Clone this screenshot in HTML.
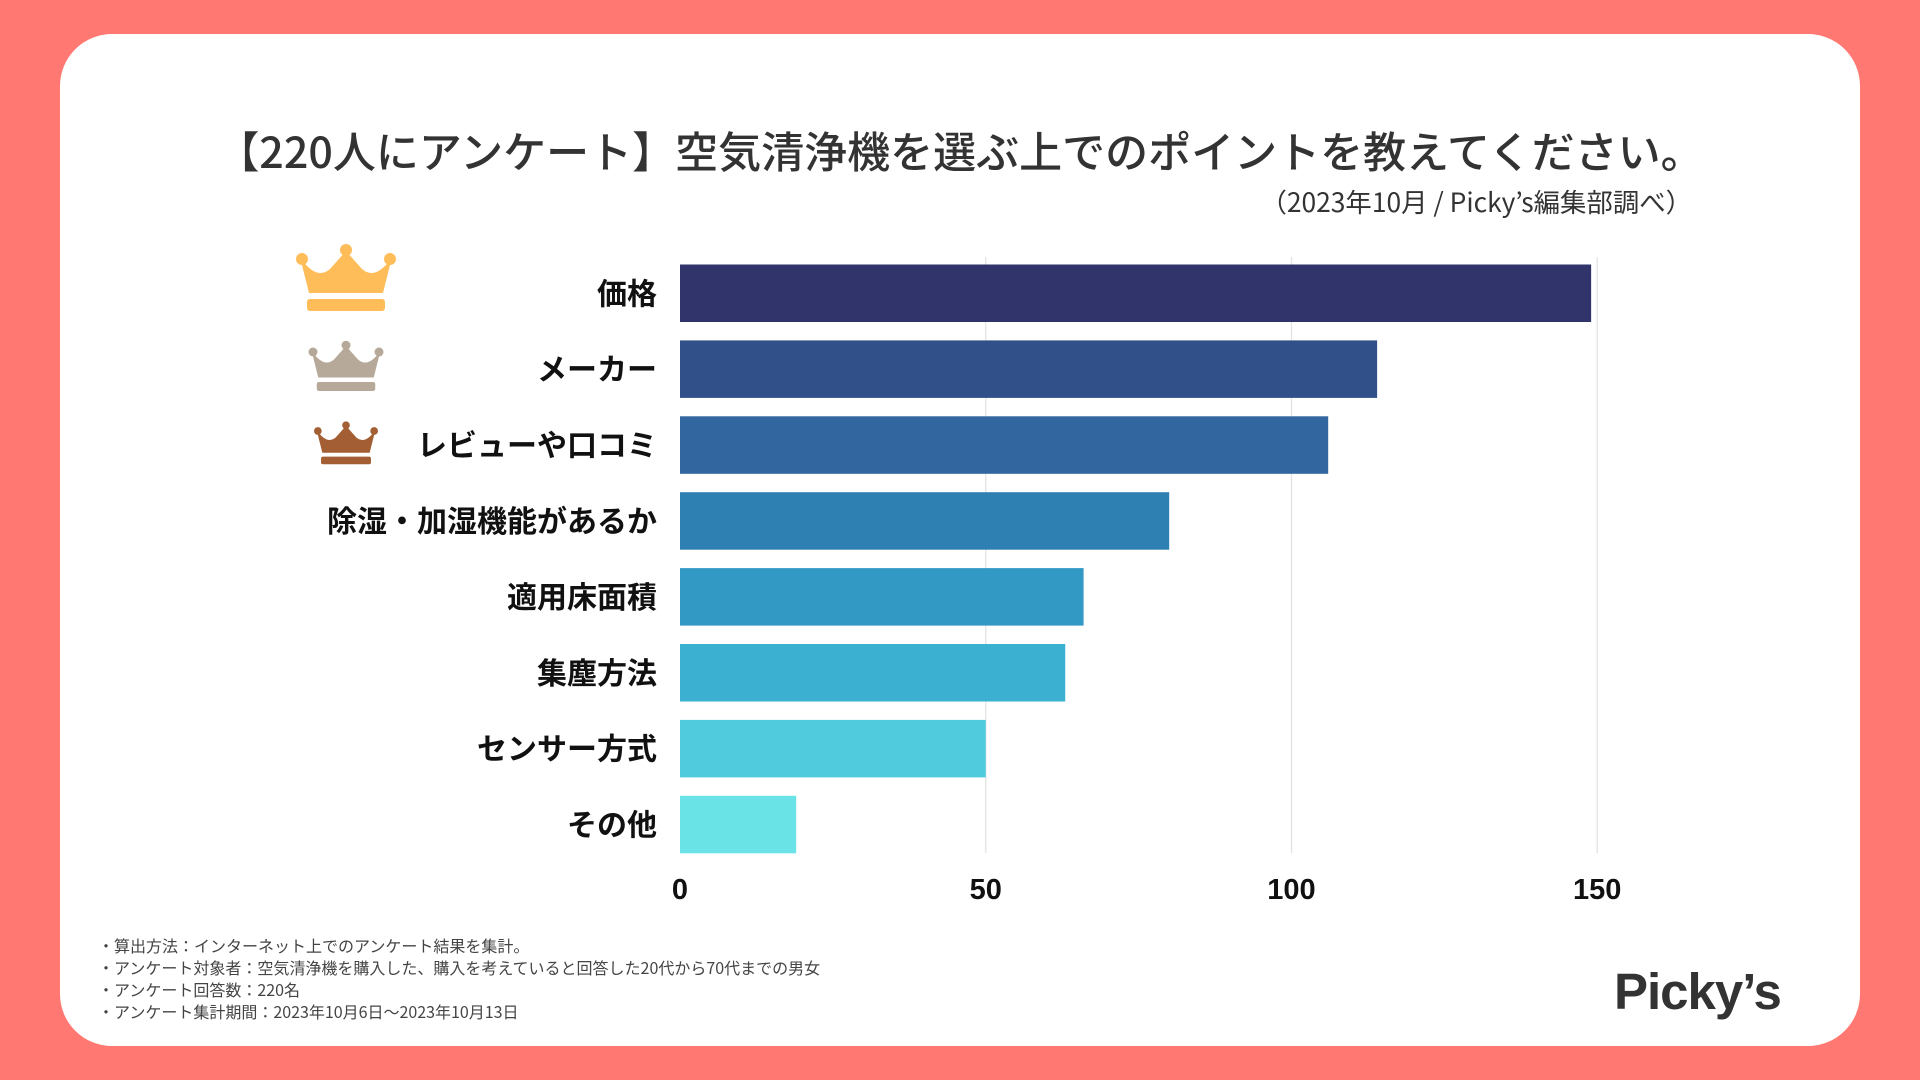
<!DOCTYPE html>
<html><head><meta charset="utf-8"><style>
html,body{margin:0;padding:0}
body{width:1920px;height:1080px;background:#ff7872;position:relative;overflow:hidden;font-family:"Liberation Sans","Noto Sans CJK JP",sans-serif}
#card{position:absolute;left:60px;top:34px;width:1800px;height:1012px;background:#fff;border-radius:52px}
.t{position:absolute;white-space:nowrap}
</style></head><body>
<div id="card"></div>
<div class="t" style="left:0;width:1920px;text-align:center;top:119px;font-size:43px;color:#333;font-family:'Noto Sans CJK JP',sans-serif;font-weight:500">【220人にアンケート】空気清浄機を選ぶ上でのポイントを教えてください。</div>
<div class="t" style="right:228px;top:181px;font-size:26.4px;color:#333;font-family:'Noto Sans CJK JP',sans-serif">（2023年10月 / Picky’s編集部調べ）</div>
<svg id="chart" width="1920" height="1080" style="position:absolute;left:0;top:0">
<defs>
<g id="crown"><path d="M-46,-2 Q-30,22 -16,10 L0,-8 L16,10 Q30,22 46,-2 L37,34 L-37,34 Z"/><circle cx="0" cy="-9" r="6"/><circle cx="-44" cy="0" r="6"/><circle cx="44" cy="0" r="6"/><rect x="-39" y="40" width="78" height="12" rx="3"/></g>
</defs>
<g transform="translate(346,259)" fill="#ffbd59"><use href="#crown"/></g>
<g transform="translate(346,352) scale(0.75)" fill="#b6a999"><use href="#crown"/></g>
<g transform="translate(346,431) scale(0.64)" fill="#a35e33"><use href="#crown"/></g>
</svg>
<div class="t" style="left:98px;top:934px;font-size:16px;line-height:22px;color:#444;font-family:'Noto Sans CJK JP',sans-serif">
・算出方法：インターネット上でのアンケート結果を集計。<br>・アンケート対象者：空気清浄機を購入した、購入を考えていると回答した20代から70代までの男女<br>・アンケート回答数：220名<br>・アンケート集計期間：2023年10月6日〜2023年10月13日</div>
<div class="t" style="left:1614px;top:962px;font-size:51px;font-weight:bold;color:#333;letter-spacing:-1px">Picky’s</div>
<script>
const categories=["価格","メーカー","レビューや口コミ","除湿・加湿機能があるか","適用床面積","集塵方法","センサー方式","その他"];
const values=[149,114,106,80,66,63,50,19];
const colors=["#31336b","#314f88","#31679e","#2e80b2","#3299c4","#3bb0d0","#50cbdd","#6ae3e6"];
const ticks=[0,50,100,150];
const NS="http://www.w3.org/2000/svg";
const svg=document.getElementById('chart');
const x0=680,unit=6.115,top0=264.5,pitch=75.9,bh=57.5;
const xs=v=>x0+v*unit;
function mk(t,a){const e=document.createElementNS(NS,t);for(const k in a)e.setAttribute(k,a[k]);svg.appendChild(e);return e;}
ticks.forEach(t=>{if(t>0){const l=mk('line',{x1:xs(t),x2:xs(t),y1:257,y2:853,stroke:'#e3e3e3','stroke-width':1.3});

}
const tx=mk('text',{x:xs(t),y:899,'text-anchor':'middle','font-size':29,'font-weight':'bold',fill:'#111'});tx.textContent=t;

});
categories.forEach((c,i)=>{const y=top0+i*pitch;
const r=mk('rect',{x:x0,y:y,width:xs(values[i])-x0,height:bh,fill:colors[i]});


const tx=mk('text',{x:657,y:y+bh/2+11,'text-anchor':'end','font-size':30,'font-weight':'bold',fill:'#111','font-family':'"Noto Sans CJK JP",sans-serif'});tx.textContent=c;

});
</script>
</body></html>
